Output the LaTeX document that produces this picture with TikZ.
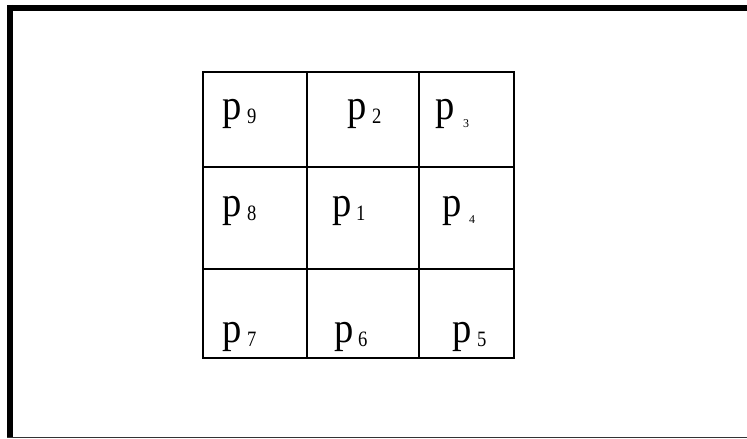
\documentclass[tikz,border=0pt]{standalone}
\usepackage{fontspec}
\setmainfont{Liberation Serif}
\usepackage{graphicx}
\begin{document}
\begin{tikzpicture}[x=1bp,y=-1bp,
  pp/.style={inner sep=0pt,anchor=base west,font=\fontsize{43}{43}\selectfont},
  sub/.style={inner sep=0pt,anchor=base west,font=\fontsize{22}{22}\selectfont},
  tiny/.style={inner sep=0pt,anchor=base west,font=\fontsize{12}{12}\selectfont},
  gridline/.style={line width=2bp,black}]
\useasboundingbox (0,0) rectangle (747,439);
% outer frame
\draw[line width=6bp] (7,8) -- (747,8);
\draw[line width=6bp] (10,5) -- (10,437);
\draw[line width=1.2bp,black!80] (7,437.6) -- (747,437.6);
% grid
\draw[gridline] (203,72) rectangle (514,358);
\draw[gridline] (307,72) -- (307,358);
\draw[gridline] (419,72) -- (419,358);
\draw[gridline] (203,167) -- (514,167);
\draw[gridline] (203,269) -- (514,269);
% labels
\node[pp] (p9) at (222,120) {\scalebox{0.9}[1]{p}};
\node[sub] (s9) at (247,124) {\scalebox{0.85}[1]{9}};
\node[pp] (p2) at (347,120) {\scalebox{0.9}[1]{p}};
\node[sub] (s2) at (372,124) {\scalebox{0.85}[1]{2}};
\node[pp] (p3) at (435,120) {\scalebox{0.9}[1]{p}};
\node[tiny] (s3) at (463,128) {3};
\node[pp] (p8) at (222,217) {\scalebox{0.9}[1]{p}};
\node[sub] (s8) at (247,221) {\scalebox{0.85}[1]{8}};
\node[pp] (p1) at (332,217) {\scalebox{0.9}[1]{p}};
\node[sub] (s1) at (356,221) {\scalebox{0.85}[1]{1}};
\node[pp] (p4) at (442,217) {\scalebox{0.9}[1]{p}};
\node[tiny] (s4) at (469,224) {4};
\node[pp] (p7) at (222,343) {\scalebox{0.9}[1]{p}};
\node[sub] (s7) at (247,347) {\scalebox{0.85}[1]{7}};
\node[pp] (p6) at (334,343) {\scalebox{0.9}[1]{p}};
\node[sub] (s6) at (358,347) {\scalebox{0.85}[1]{6}};
\node[pp] (p5) at (452,343) {\scalebox{0.9}[1]{p}};
\node[sub] (s5) at (477,347) {\scalebox{0.85}[1]{5}};
\end{tikzpicture}
\end{document}
